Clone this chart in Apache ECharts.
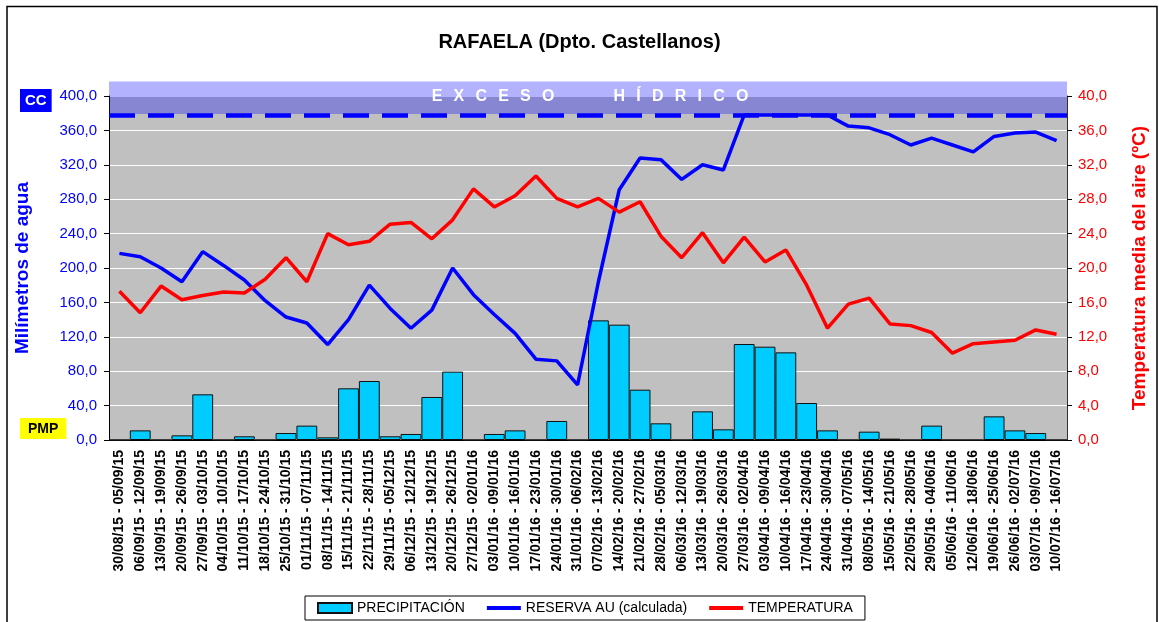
<!DOCTYPE html>
<html>
<head>
<meta charset="utf-8">
<script src="https://cdn.jsdelivr.net/npm/echarts@6/dist/echarts.min.js"></script>
<style>
  html, body { margin: 0; padding: 0; background: #fff; }
  #main { width: 1159px; height: 622px; }
</style>
</head>
<body>
<div id="main"></div>
<script>
// semanas
const weeks = [
  '30/08/15 - 05/09/15', '06/09/15 - 12/09/15', '13/09/15 - 19/09/15', '20/09/15 - 26/09/15',
  '27/09/15 - 03/10/15', '04/10/15 - 10/10/15', '11/10/15 - 17/10/15', '18/10/15 - 24/10/15',
  '25/10/15 - 31/10/15', '01/11/15 - 07/11/15', '08/11/15 - 14/11/15', '15/11/15 - 21/11/15',
  '22/11/15 - 28/11/15', '29/11/15 - 05/12/15', '06/12/15 - 12/12/15', '13/12/15 - 19/12/15',
  '20/12/15 - 26/12/15', '27/12/15 - 02/01/16', '03/01/16 - 09/01/16', '10/01/16 - 16/01/16',
  '17/01/16 - 23/01/16', '24/01/16 - 30/01/16', '31/01/16 - 06/02/16', '07/02/16 - 13/02/16',
  '14/02/16 - 20/02/16', '21/02/16 - 27/02/16', '28/02/16 - 05/03/16', '06/03/16 - 12/03/16',
  '13/03/16 - 19/03/16', '20/03/16 - 26/03/16', '27/03/16 - 02/04/16', '03/04/16 - 09/04/16',
  '10/04/16 - 16/04/16', '17/04/16 - 23/04/16', '24/04/16 - 30/04/16', '31/04/16 - 07/05/16',
  '08/05/16 - 14/05/16', '15/05/16 - 21/05/16', '22/05/16 - 28/05/16', '29/05/16 - 04/06/16',
  '05/06/16 - 11/06/16', '12/06/16 - 18/06/16', '19/06/16 - 25/06/16', '26/06/16 - 02/07/16',
  '03/07/16 - 09/07/16', '10/07/16 - 16/07/16'
]

// mm
const precipitacion = [
  0, 11.2, 0, 5.4, 53.1, 0, 4.3, 0, 8.1, 16.7,
  3.1, 60.1, 68.6, 4.3, 7.0, 50.0, 79.5, 0, 7.0, 11.2,
  0, 22.1, 0, 139.1, 134.1, 58.5, 19.4, 0, 33.3, 12.4,
  111.6, 108.5, 101.9, 43.0, 11.2, 0, 9.7, 1.6, 0, 16.7,
  0, 0, 27.5, 11.2, 8.1, 0
]

// mm
const reserva = [
  217, 213, 200, 184, 219, 203, 186, 162, 143, 136,
  111, 140, 180, 153, 130, 151, 200, 169, 146, 124,
  94, 92, 64, 184, 291, 328, 326, 303, 320, 314,
  378, 378, 378, 378, 378, 365, 363, 355, 343, 351,
  343, 335, 353, 357, 358, 348
]

// ºC
const temperatura = [
  17.3, 14.8, 17.9, 16.3, 16.8, 17.2, 17.1, 18.7, 21.2, 18.4,
  24.0, 22.7, 23.1, 25.1, 25.3, 23.4, 25.6, 29.2, 27.1, 28.4,
  30.7, 28.1, 27.1, 28.1, 26.5, 27.7, 23.7, 21.2, 24.1, 20.6,
  23.6, 20.7, 22.1, 18.0, 13.0, 15.8, 16.5, 13.5, 13.3, 12.5,
  10.1, 11.2, 11.4, 11.6, 12.8, 12.3
]

const capacidadCampo = 378
const excesoBand = [379, 417]

const font = "'Liberation Sans', Arial, sans-serif"
const gridLeft = 109
const gridRight = 92
const fmt = v => v.toFixed(1).replace('.', ',')
const lineIcon = 'path://M0,0 L34,0 L34,4 L0,4 Z'

const option = {
  animation: false,
  backgroundColor: '#fff',
  textStyle: { fontFamily: font },
  title: {
    text: 'RAFAELA (Dpto. Castellanos)',
    left: 'center',
    top: 27,
    textStyle: { fontSize: 20, fontWeight: 'bold', color: '#000', fontFamily: font }
  },
  legend: {
    left: 305,
    top: 596,
    padding: [5, 12, 5, 12],
    itemGap: 22,
    itemWidth: 34,
    itemHeight: 10,
    borderColor: '#000',
    borderWidth: 1,
    textStyle: { fontSize: 14, color: '#000', fontFamily: font },
    data: [
      { name: 'PRECIPITACIÓN', icon: 'rect' },
      { name: 'RESERVA AU (calculada)', icon: lineIcon, itemStyle: { color: '#0000FF' } },
      { name: 'TEMPERATURA', icon: lineIcon, itemStyle: { color: '#FF0000' } }
    ]
  },
  grid: {
    left: gridLeft,
    right: gridRight,
    top: 96,
    bottom: 182,
    show: true,
    backgroundColor: '#C0C0C0',
    borderWidth: 0
  },
  xAxis: {
    type: 'category',
    data: weeks,
    boundaryGap: true,
    axisLine: { lineStyle: { color: '#000', width: 1 } },
    axisTick: { interval: 0, length: 5, lineStyle: { color: '#000' } },
    axisLabel: {
      interval: 0,
      rotate: 90,
      margin: 10,
      color: '#000',
      fontSize: 14,
      fontWeight: 'bold',
      fontFamily: font
    }
  },
  yAxis: [
    {
      type: 'value',
      min: 0,
      max: 400,
      interval: 40,
      name: 'Milímetros de agua',
      nameLocation: 'middle',
      nameGap: 77,
      nameRotate: 90,
      nameTextStyle: { color: '#0000FF', fontSize: 19, fontWeight: 'bold', fontFamily: font },
      axisLine: { show: true, lineStyle: { color: '#000' } },
      axisTick: { show: true, length: 5, lineStyle: { color: '#000' } },
      axisLabel: { color: '#0000FF', fontSize: 15, margin: 12, formatter: fmt, fontFamily: font },
      splitLine: { lineStyle: { color: '#FFFFFF', width: 1.2 } }
    },
    {
      type: 'value',
      min: 0,
      max: 40,
      interval: 4,
      position: 'right',
      name: 'Temperatura media del aire (ºC)',
      nameLocation: 'middle',
      nameGap: 63,
      nameRotate: 90,
      nameTextStyle: { color: '#FF0000', fontSize: 19, fontWeight: 'bold', fontFamily: font },
      axisLine: { show: true, lineStyle: { color: '#333' } },
      axisTick: { show: true, length: 5, lineStyle: { color: '#000' } },
      axisLabel: { color: '#FF0000', fontSize: 15, margin: 11, formatter: fmt, fontFamily: font },
      splitLine: { show: false }
    }
  ],
  series: [
    {
      name: 'PRECIPITACIÓN',
      type: 'bar',
      yAxisIndex: 0,
      barCategoryGap: '0%',
      data: precipitacion,
      itemStyle: { color: '#00CCFF', borderColor: '#111', borderWidth: 1 }
    },
    {
      name: 'RESERVA AU (calculada)',
      type: 'line',
      yAxisIndex: 0,
      symbol: 'none',
      data: reserva,
      lineStyle: { color: '#0000FF', width: 3.5 },
      itemStyle: { color: '#0000FF' },
      markLine: {
        silent: true,
        symbol: 'none',
        label: { show: false },
        lineStyle: { color: '#0000FF', width: 4.5, type: [26, 13] },
        data: [{ yAxis: capacidadCampo }]
      }
    },
    {
      name: 'TEMPERATURA',
      type: 'line',
      yAxisIndex: 1,
      symbol: 'none',
      data: temperatura,
      lineStyle: { color: '#FF0000', width: 3.5 },
      itemStyle: { color: '#FF0000' }
    }
  ]
}

const chart = echarts.init(document.getElementById('main'))
chart.setOption(option)

// banda de exceso hidrico, a partir de la escala del eje
const yTop = chart.convertToPixel({ yAxisIndex: 0 }, excesoBand[1])
const yBottom = chart.convertToPixel({ yAxisIndex: 0 }, excesoBand[0])
const y400 = chart.convertToPixel({ yAxisIndex: 0 }, 400)
const plotWidth = 1159 - gridLeft - gridRight
const sep = '\u2002\u2009'
const spaced = w => w.split('').join(sep)

chart.setOption({
  graphic: [
    {
      type: 'rect',
      z: 0,
      silent: true,
      shape: { x: 7, y: 6.5, width: 1150, height: 660 },
      style: { fill: null, stroke: '#000', lineWidth: 1.5 }
    },
    {
      type: 'rect',
      z: 1,
      silent: true,
      shape: { x: gridLeft, y: yTop, width: plotWidth, height: yBottom - yTop },
      style: { fill: 'rgba(0, 0, 255, 0.3)' }
    },
    {
      type: 'text',
      z: 10,
      silent: true,
      x: gridLeft + plotWidth / 2 + 2,
      y: y400 + 1,
      style: {
        text: spaced('EXCESO') + sep + '\u2003\u2003\u2003' + spaced('HÍDRICO'),
        fill: '#fff',
        font: 'bold 16px ' + font,
        align: 'center',
        verticalAlign: 'middle'
      }
    },
    {
      type: 'text',
      z: 10,
      left: 20,
      top: 89,
      style: {
        text: 'CC',
        fill: '#fff',
        font: 'bold 15px ' + font,
        backgroundColor: '#0000FF',
        padding: [4, 5, 4, 5],
        lineHeight: 15
      }
    },
    {
      type: 'text',
      z: 10,
      left: 20,
      top: 418,
      style: {
        text: 'PMP',
        fill: '#000',
        font: 'bold 14px ' + font,
        backgroundColor: '#FFFF00',
        padding: [4, 8, 3, 8],
        lineHeight: 14
      }
    }
  ]
})
</script>
</body>
</html>
